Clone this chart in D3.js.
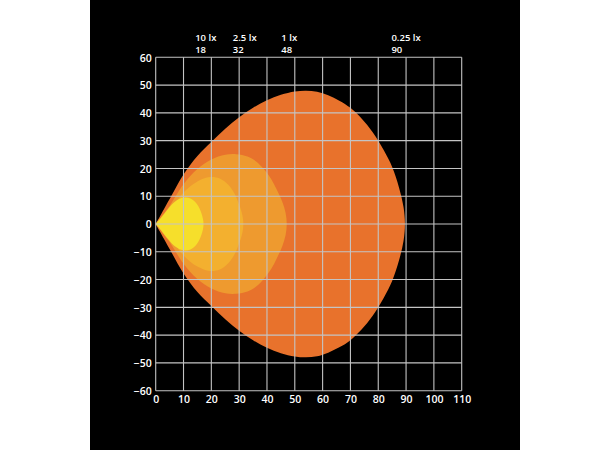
<!DOCTYPE html>
<html>
<head>
<meta charset="utf-8">
<script src="https://cdn.jsdelivr.net/npm/d3@7"></script>
<style>
  html, body { margin: 0; padding: 0; background: #ffffff; }
  svg { display: block; }
</style>
</head>
<body>
<script>
// ---- data ----
const xTicks = [0, 10, 20, 30, 40, 50, 60, 70, 80, 90, 100, 110];
const yTicks = [60, 50, 40, 30, 20, 10, 0, -10, -20, -30, -40, -50, -60];

const isoLabels = ["0.25 lx", "1 lx", "2.5 lx", "10 lx"];
const isoDistances = [90, 48, 32, 18];
const isoColors = ["#e8722c", "#ee9a2f", "#f3b02f", "#f6df2b"];

// upper half contours [distance m, half-width m], mirrored for lower half
const contour025 = [[0,0],[3,5.4],[6,10.8],[10,17.8],[15,24.5],[20,29.5],[25,34.3],[30,38.4],[35,41.8],[40,44.5],[45,46.5],[50,47.7],[54,48],[58,47.6],[62,46.3],[66,44.4],[70,41.8],[74,38],[78,33],[82,26.5],[85,20.5],[87.5,13],[89.1,6],[89.6,0]];
const contour1 = [[0,0],[2.5,3.2],[5,6.5],[10,14.3],[15,19.8],[20,23.2],[25,24.9],[29,25.1],[33,24.3],[36,22.6],[39,19.6],[41.5,16.2],[43.5,12.4],[45.5,8],[46.7,4],[47.1,0]];
const contour25 = [[0,0],[2.5,2.2],[5,4.6],[10,11.3],[15,15.3],[19.5,16.9],[23,16.4],[26,14.2],[28.3,11],[30.2,6.5],[31.2,3],[31.5,0]];
const contour10 = [[0,0],[2,2.3],[4.5,5.5],[7,8.1],[10,9.5],[12.5,9.2],[14.8,7.2],[16.4,4],[17.2,0]];
const contours = [contour025, contour1, contour25, contour10];

// ---- layout ----
const W = 610, H = 450;
const svg = d3.select("body").append("svg").attr("width", W).attr("height", H);

svg.append("rect").attr("x", 90).attr("y", 0).attr("width", 430).attr("height", H).attr("fill", "#000");

const x = d3.scaleLinear().domain([0, 110]).range([155.7, 461.7]);
const y = d3.scaleLinear().domain([-60, 60]).range([390.7, 57.3]);

// ---- areas ----
const line = d3.line().x(d => x(d[0])).y(d => y(d[1])).curve(d3.curveCatmullRom.alpha(0.5));
contours.forEach((c, i) => {
  const lower = c.slice(1, -1).map(d => [d[0], -d[1]]).reverse();
  const pts = c.concat(lower).concat([[0, 0]]);
  svg.append("path").attr("d", line(pts) + "Z").attr("fill", isoColors[i]);
});

// ---- grid ----
const grid = svg.append("g").attr("stroke", "#c4c4c4").attr("stroke-width", 1.1);
xTicks.forEach(t => grid.append("line").attr("x1", x(t)).attr("x2", x(t)).attr("y1", y(60)).attr("y2", y(-60)));
yTicks.forEach(t => grid.append("line").attr("x1", x(0)).attr("x2", x(110)).attr("y1", y(t)).attr("y2", y(t)));

// ---- axes labels ----
const font = "'Open Sans', 'Noto Sans', sans-serif";
const xAxis = d3.axisBottom(x).tickValues(xTicks).tickSize(0).tickPadding(0).tickFormat(d3.format("d"));
const gx = svg.append("g").attr("transform", `translate(0,${y(-60) + 1.5})`).call(xAxis);
gx.select(".domain").remove();
gx.selectAll("text").attr("fill", "#fff").attr("font-family", font).attr("font-weight", 600).attr("font-size", 10.5).attr("dy", "1.05em").attr("y", 0);

const yAxis = d3.axisLeft(y).tickValues(yTicks).tickSize(0).tickPadding(4).tickFormat(d3.format("d"));
const gy = svg.append("g").attr("transform", `translate(${x(0)},0)`).call(yAxis);
gy.select(".domain").remove();
gy.selectAll("text").attr("fill", "#fff").attr("font-family", font).attr("font-weight", 600).attr("font-size", 10.5).attr("dy", "0.36em");

// ---- iso labels on top ----
isoLabels.forEach((lab, i) => {
  const t1 = svg.append("text").attr("font-family", font).attr("font-weight", 600).attr("font-size", 9.5)
    .attr("fill", "#fff").attr("y", 41).text(lab);
  const w = t1.node().getComputedTextLength();
  const x0 = x(isoDistances[i]) - w / 2;
  t1.attr("x", x0);
  svg.append("text").attr("font-family", font).attr("font-weight", 600).attr("font-size", 9.5)
    .attr("fill", "#fff").attr("x", x0).attr("y", 53).text(isoDistances[i]);
});
</script>
</body>
</html>
